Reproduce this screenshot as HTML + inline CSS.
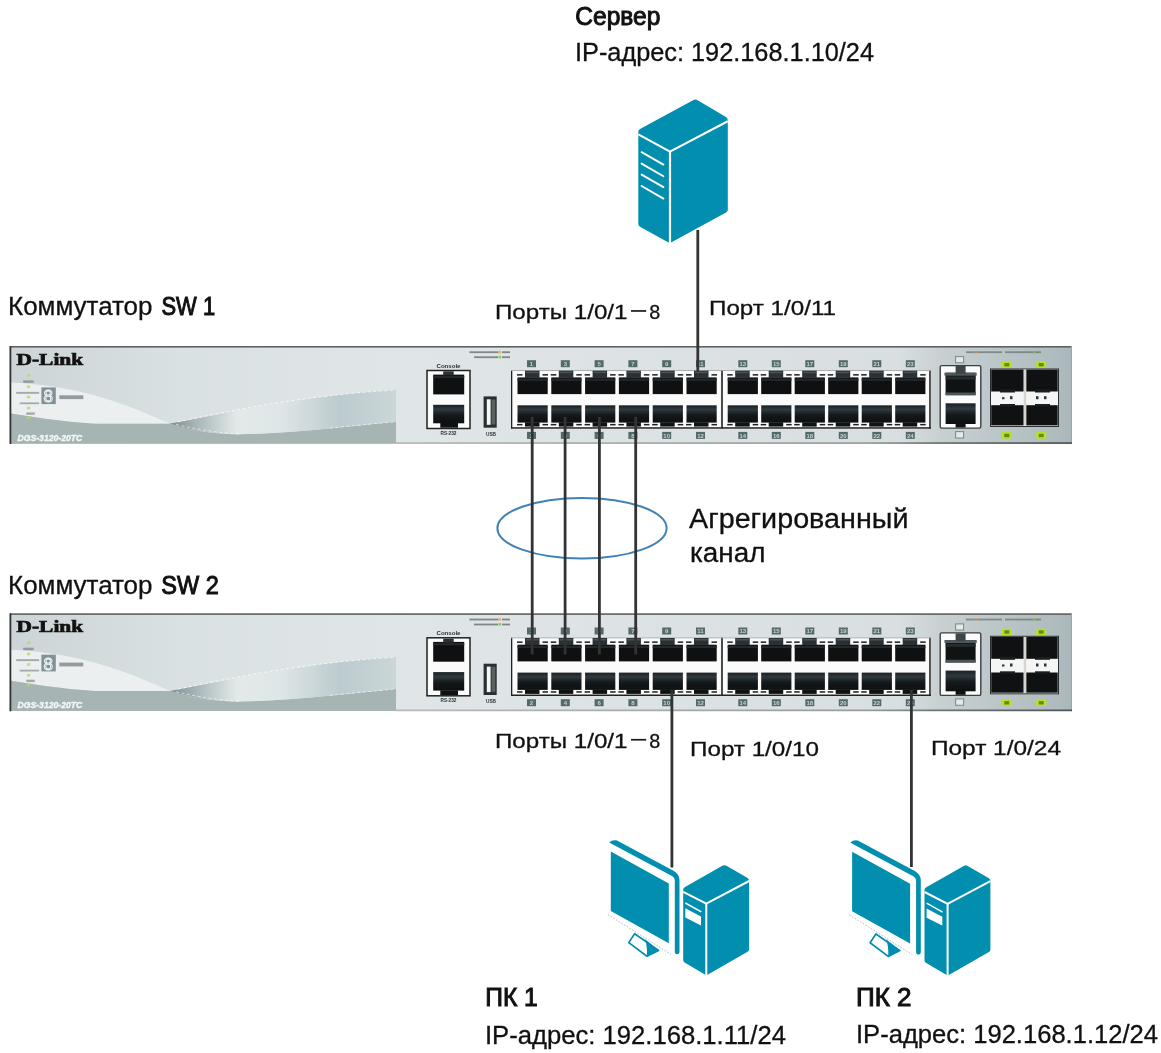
<!DOCTYPE html>
<html><head><meta charset="utf-8">
<style>
html,body{margin:0;padding:0;background:#fff;}
body{width:1161px;height:1053px;overflow:hidden;position:relative;}
svg{position:absolute;left:0;top:0;display:block;filter:blur(0.35px);}
text{font-family:"Liberation Sans",sans-serif;fill:#111;} #texts text{stroke:#111;stroke-width:0.3px;}
</style></head><body>
<svg width="1161" height="1053" viewBox="0 0 1161 1053">
<defs>
<linearGradient id="metal" x1="0" y1="0" x2="1" y2="0">
  <stop offset="0" stop-color="#d6dcdd"/>
  <stop offset="0.367" stop-color="#e0e6e7"/>
  <stop offset="0.838" stop-color="#d9dfe0"/>
  <stop offset="0.875" stop-color="#c9d0d2"/>
  <stop offset="1" stop-color="#abb8bb"/>
</linearGradient>
<linearGradient id="leftTone" gradientUnits="userSpaceOnUse" x1="11" y1="0" x2="396" y2="0">
  <stop offset="0" stop-color="#ccd4d7"/>
  <stop offset="0.45" stop-color="#dae1e2"/>
  <stop offset="1" stop-color="#e0e6e7"/>
</linearGradient>
<linearGradient id="reflect" gradientUnits="userSpaceOnUse" x1="170" y1="0" x2="396" y2="0">
  <stop offset="0" stop-color="#7e8d90"/>
  <stop offset="0.12" stop-color="#a9b7ba"/>
  <stop offset="0.3" stop-color="#e4eaea"/>
  <stop offset="0.5" stop-color="#dde5e6"/>
  <stop offset="0.75" stop-color="#bccbce"/>
  <stop offset="1" stop-color="#cbd6d8"/>
</linearGradient>
<linearGradient id="botb" gradientUnits="userSpaceOnUse" x1="396" y1="0" x2="1072" y2="0">
  <stop offset="0" stop-color="#b3bbbb"/>
  <stop offset="0.7" stop-color="#959d9d"/>
  <stop offset="0.8" stop-color="#6d7474"/>
  <stop offset="1" stop-color="#4f5555"/>
</linearGradient>
<linearGradient id="lowport" x1="0" y1="0" x2="0" y2="1">
  <stop offset="0" stop-color="#1a1f22"/>
  <stop offset="0.25" stop-color="#2f3a40"/>
  <stop offset="0.55" stop-color="#15191b"/>
  <stop offset="1" stop-color="#0d0f10"/>
</linearGradient>
<g id="sw">
<rect x="10" y="346.5" width="1062" height="97.3" fill="url(#metal)"/>
<rect x="11" y="347.5" width="385" height="96" fill="url(#leftTone)"/>
<path d="M11,382.5 C45,384 80,390 110,400 C135,408 152,416 170,423.6 L95,423.8 C60,421.5 30,416.5 11,413.5 Z" fill="#eceff0"/>
<path d="M11,413.5 C30,416.5 60,421.5 95,423.8 L170,423.8 C190,430 210,434 238,434.3 C300,433 350,426 396,421.5 L396,443.8 L11,443.8 Z" fill="#a6b4b4"/>
<path d="M170,423.6 C230,412 300,396 396,389.5 L396,421.5 C350,426 300,433 238,434.3 C210,434 190,430 170,423.8 Z" fill="url(#reflect)"/>
<path d="M178,421.8 C235,410 300,396 394,390" fill="none" stroke="#ffffff" stroke-width="0.9" stroke-dasharray="3 2.5" opacity="0.8"/>
<path d="M176,424.5 C200,430 220,433 240,434 M330,428 C350,426 375,423.5 394,422" fill="none" stroke="#ffffff" stroke-width="0.8" stroke-dasharray="3 2.5" opacity="0.7"/>
<rect x="10" y="346" width="1062" height="1.6" fill="#5d6262"/>
<rect x="9.5" y="346" width="1.8" height="98" fill="#2e3333"/>
<rect x="1071" y="346" width="1" height="98" fill="#9aa6a9"/>
<rect x="396" y="442.2" width="676" height="1.7" fill="url(#botb)"/>
<text x="16.5" y="365" style="font-family:'Liberation Serif',serif;font-weight:bold;font-size:16.5px;fill:#111;stroke:#111;stroke-width:0.7" textLength="66.7" lengthAdjust="spacingAndGlyphs">D-Link</text>
<text x="17.5" y="441.2" style="font-family:'Liberation Sans',sans-serif;font-style:italic;font-weight:bold;font-size:9.8px;fill:#f2f5f5;stroke:#f2f5f5;stroke-width:0.45" textLength="64.8" lengthAdjust="spacingAndGlyphs">DGS-3120-20TC</text>
<rect x="27" y="374.2" width="3.2" height="2.4" fill="#b8dc4a" opacity="0.85"/>
<rect x="27" y="385.5" width="3.2" height="2.4" fill="#b8dc4a" opacity="0.85"/>
<rect x="27" y="395.9" width="3.2" height="2.4" fill="#b8dc4a" opacity="0.85"/>
<rect x="27" y="406.8" width="3.2" height="2.4" fill="#b8dc4a" opacity="0.85"/>
<rect x="27" y="416.5" width="3.2" height="2.4" fill="#b8dc4a" opacity="0.85"/>
<rect x="23.2" y="380.4" width="10.5" height="2.4" fill="#3a4244" opacity="0.4"/>
<rect x="16.2" y="391.9" width="22.9" height="1.9" fill="#3a4244" opacity="0.4"/>
<rect x="19.7" y="402.4" width="19.4" height="1.8" fill="#3a4244" opacity="0.4"/>
<rect x="26.3" y="412.4" width="8.5" height="2.4" fill="#3a4244" opacity="0.4"/>
<rect x="41.4" y="387.4" width="14.4" height="16.7" fill="#7f9199"/>
<text x="43.6" y="402.3" style="font-family:'Liberation Sans',sans-serif;font-size:17px;fill:none;stroke:#eef3f4;stroke-width:1" textLength="9.5" lengthAdjust="spacingAndGlyphs">8</text>
<rect x="59.3" y="395.3" width="24" height="3.8" fill="#2d3436" opacity="0.45"/>
<rect x="469.5" y="351.3" width="29" height="1.8" fill="#5a6060" opacity="0.7"/>
<rect x="502" y="351.3" width="8" height="1.8" fill="#5a6060" opacity="0.7"/>
<rect x="474" y="356.3" width="24" height="1.8" fill="#5a6060" opacity="0.7"/>
<rect x="502" y="356.3" width="8" height="1.8" fill="#5a6060" opacity="0.7"/>
<rect x="498.5" y="350.8" width="2.6" height="2.6" fill="#f0a050" opacity="0.8"/>
<rect x="498.5" y="355.8" width="2.6" height="2.6" fill="#6fd04a" opacity="0.9"/>
<rect x="966" y="351.3" width="36" height="1.8" fill="#5a6060" opacity="0.6"/>
<rect x="1005" y="351.3" width="36" height="1.8" fill="#5a6060" opacity="0.6"/>
<rect x="975" y="350.8" width="2.4" height="2.6" fill="#f09050" opacity="0.7"/>
<rect x="1033" y="350.8" width="2.4" height="2.6" fill="#6fd04a" opacity="0.8"/>
<rect x="511" y="370.4" width="209.8" height="58.2" fill="#fbfbfb"/>
<rect x="511" y="370.4" width="1.3" height="58.2" fill="#1e2222"/>
<rect x="511" y="427.2" width="210" height="1.5" fill="#1e2222"/>
<rect x="511" y="370.2" width="210" height="0.8" fill="#9aa2a2"/>
<rect x="721.3" y="370.4" width="209.2" height="58.2" fill="#fbfbfb"/>
<rect x="721.2" y="370.4" width="1.6" height="58.2" fill="#1e2222"/>
<rect x="721.3" y="427.2" width="209.5" height="1.5" fill="#1e2222"/>
<rect x="929.2" y="370.4" width="1.5" height="58.2" fill="#1e2222"/>
<rect x="721.3" y="370.2" width="209" height="0.8" fill="#9aa2a2"/>
<rect x="517.50" y="377.40" width="30.2" height="16.7" fill="#0e1011"/><rect x="517.50" y="378.60" width="30.2" height="2.2" fill="#24292b"/><rect x="525.00" y="370.70" width="14.5" height="7.2" fill="#2a3033"/><rect x="526.00" y="371.60" width="12.5" height="1.6" fill="#4a5458"/><rect x="517.00" y="374.10" width="5.5" height="1.5" fill="#1b1d1e"/><rect x="542.50" y="374.10" width="5.5" height="1.5" fill="#1b1d1e"/>
<rect x="517.50" y="405.30" width="30.2" height="17.3" fill="url(#lowport)"/><rect x="525.00" y="422.30" width="14.5" height="4.3" fill="#0f1213"/><rect x="517.00" y="423.90" width="5.5" height="1.5" fill="#1b1d1e"/><rect x="542.50" y="423.90" width="5.5" height="1.5" fill="#1b1d1e"/>
<rect x="527.00" y="360.20" width="9" height="7" fill="#546a6a"/><text x="531.50" y="366.10" text-anchor="middle" style="font-family:'Liberation Sans',sans-serif;font-weight:bold;font-size:6px;fill:#c5d2d2">1</text>
<rect x="527.00" y="431.90" width="9" height="7" fill="#546a6a"/><text x="531.50" y="437.80" text-anchor="middle" style="font-family:'Liberation Sans',sans-serif;font-weight:bold;font-size:6px;fill:#c5d2d2">2</text>
<rect x="551.30" y="377.40" width="30.2" height="16.7" fill="#0e1011"/><rect x="551.30" y="378.60" width="30.2" height="2.2" fill="#24292b"/><rect x="558.80" y="370.70" width="14.5" height="7.2" fill="#2a3033"/><rect x="559.80" y="371.60" width="12.5" height="1.6" fill="#4a5458"/><rect x="550.80" y="374.10" width="5.5" height="1.5" fill="#1b1d1e"/><rect x="576.30" y="374.10" width="5.5" height="1.5" fill="#1b1d1e"/>
<rect x="551.30" y="405.30" width="30.2" height="17.3" fill="url(#lowport)"/><rect x="558.80" y="422.30" width="14.5" height="4.3" fill="#0f1213"/><rect x="550.80" y="423.90" width="5.5" height="1.5" fill="#1b1d1e"/><rect x="576.30" y="423.90" width="5.5" height="1.5" fill="#1b1d1e"/>
<rect x="560.80" y="360.20" width="9" height="7" fill="#546a6a"/><text x="565.30" y="366.10" text-anchor="middle" style="font-family:'Liberation Sans',sans-serif;font-weight:bold;font-size:6px;fill:#c5d2d2">3</text>
<rect x="560.80" y="431.90" width="9" height="7" fill="#546a6a"/><text x="565.30" y="437.80" text-anchor="middle" style="font-family:'Liberation Sans',sans-serif;font-weight:bold;font-size:6px;fill:#c5d2d2">4</text>
<rect x="585.10" y="377.40" width="30.2" height="16.7" fill="#0e1011"/><rect x="585.10" y="378.60" width="30.2" height="2.2" fill="#24292b"/><rect x="592.60" y="370.70" width="14.5" height="7.2" fill="#2a3033"/><rect x="593.60" y="371.60" width="12.5" height="1.6" fill="#4a5458"/><rect x="584.60" y="374.10" width="5.5" height="1.5" fill="#1b1d1e"/><rect x="610.10" y="374.10" width="5.5" height="1.5" fill="#1b1d1e"/>
<rect x="585.10" y="405.30" width="30.2" height="17.3" fill="url(#lowport)"/><rect x="592.60" y="422.30" width="14.5" height="4.3" fill="#0f1213"/><rect x="584.60" y="423.90" width="5.5" height="1.5" fill="#1b1d1e"/><rect x="610.10" y="423.90" width="5.5" height="1.5" fill="#1b1d1e"/>
<rect x="594.60" y="360.20" width="9" height="7" fill="#546a6a"/><text x="599.10" y="366.10" text-anchor="middle" style="font-family:'Liberation Sans',sans-serif;font-weight:bold;font-size:6px;fill:#c5d2d2">5</text>
<rect x="594.60" y="431.90" width="9" height="7" fill="#546a6a"/><text x="599.10" y="437.80" text-anchor="middle" style="font-family:'Liberation Sans',sans-serif;font-weight:bold;font-size:6px;fill:#c5d2d2">6</text>
<rect x="618.90" y="377.40" width="30.2" height="16.7" fill="#0e1011"/><rect x="618.90" y="378.60" width="30.2" height="2.2" fill="#24292b"/><rect x="626.40" y="370.70" width="14.5" height="7.2" fill="#2a3033"/><rect x="627.40" y="371.60" width="12.5" height="1.6" fill="#4a5458"/><rect x="618.40" y="374.10" width="5.5" height="1.5" fill="#1b1d1e"/><rect x="643.90" y="374.10" width="5.5" height="1.5" fill="#1b1d1e"/>
<rect x="618.90" y="405.30" width="30.2" height="17.3" fill="url(#lowport)"/><rect x="626.40" y="422.30" width="14.5" height="4.3" fill="#0f1213"/><rect x="618.40" y="423.90" width="5.5" height="1.5" fill="#1b1d1e"/><rect x="643.90" y="423.90" width="5.5" height="1.5" fill="#1b1d1e"/>
<rect x="628.40" y="360.20" width="9" height="7" fill="#546a6a"/><text x="632.90" y="366.10" text-anchor="middle" style="font-family:'Liberation Sans',sans-serif;font-weight:bold;font-size:6px;fill:#c5d2d2">7</text>
<rect x="628.40" y="431.90" width="9" height="7" fill="#546a6a"/><text x="632.90" y="437.80" text-anchor="middle" style="font-family:'Liberation Sans',sans-serif;font-weight:bold;font-size:6px;fill:#c5d2d2">8</text>
<rect x="652.70" y="377.40" width="30.2" height="16.7" fill="#0e1011"/><rect x="652.70" y="378.60" width="30.2" height="2.2" fill="#24292b"/><rect x="660.20" y="370.70" width="14.5" height="7.2" fill="#2a3033"/><rect x="661.20" y="371.60" width="12.5" height="1.6" fill="#4a5458"/><rect x="652.20" y="374.10" width="5.5" height="1.5" fill="#1b1d1e"/><rect x="677.70" y="374.10" width="5.5" height="1.5" fill="#1b1d1e"/>
<rect x="652.70" y="405.30" width="30.2" height="17.3" fill="url(#lowport)"/><rect x="660.20" y="422.30" width="14.5" height="4.3" fill="#0f1213"/><rect x="652.20" y="423.90" width="5.5" height="1.5" fill="#1b1d1e"/><rect x="677.70" y="423.90" width="5.5" height="1.5" fill="#1b1d1e"/>
<rect x="662.20" y="360.20" width="9" height="7" fill="#546a6a"/><text x="666.70" y="366.10" text-anchor="middle" style="font-family:'Liberation Sans',sans-serif;font-weight:bold;font-size:6px;fill:#c5d2d2">9</text>
<rect x="662.20" y="431.90" width="9" height="7" fill="#546a6a"/><text x="666.70" y="437.80" text-anchor="middle" style="font-family:'Liberation Sans',sans-serif;font-weight:bold;font-size:6px;fill:#c5d2d2">10</text>
<rect x="686.50" y="377.40" width="30.2" height="16.7" fill="#0e1011"/><rect x="686.50" y="378.60" width="30.2" height="2.2" fill="#24292b"/><rect x="694.00" y="370.70" width="14.5" height="7.2" fill="#2a3033"/><rect x="695.00" y="371.60" width="12.5" height="1.6" fill="#4a5458"/><rect x="686.00" y="374.10" width="5.5" height="1.5" fill="#1b1d1e"/><rect x="711.50" y="374.10" width="5.5" height="1.5" fill="#1b1d1e"/>
<rect x="686.50" y="405.30" width="30.2" height="17.3" fill="url(#lowport)"/><rect x="694.00" y="422.30" width="14.5" height="4.3" fill="#0f1213"/><rect x="686.00" y="423.90" width="5.5" height="1.5" fill="#1b1d1e"/><rect x="711.50" y="423.90" width="5.5" height="1.5" fill="#1b1d1e"/>
<rect x="696.00" y="360.20" width="9" height="7" fill="#546a6a"/><text x="700.50" y="366.10" text-anchor="middle" style="font-family:'Liberation Sans',sans-serif;font-weight:bold;font-size:6px;fill:#c5d2d2">11</text>
<rect x="696.00" y="431.90" width="9" height="7" fill="#546a6a"/><text x="700.50" y="437.80" text-anchor="middle" style="font-family:'Liberation Sans',sans-serif;font-weight:bold;font-size:6px;fill:#c5d2d2">12</text>
<rect x="727.70" y="377.40" width="30.2" height="16.7" fill="#0e1011"/><rect x="727.70" y="378.60" width="30.2" height="2.2" fill="#24292b"/><rect x="735.20" y="370.70" width="14.5" height="7.2" fill="#2a3033"/><rect x="736.20" y="371.60" width="12.5" height="1.6" fill="#4a5458"/><rect x="727.20" y="374.10" width="5.5" height="1.5" fill="#1b1d1e"/><rect x="752.70" y="374.10" width="5.5" height="1.5" fill="#1b1d1e"/>
<rect x="727.70" y="405.30" width="30.2" height="17.3" fill="url(#lowport)"/><rect x="735.20" y="422.30" width="14.5" height="4.3" fill="#0f1213"/><rect x="727.20" y="423.90" width="5.5" height="1.5" fill="#1b1d1e"/><rect x="752.70" y="423.90" width="5.5" height="1.5" fill="#1b1d1e"/>
<rect x="738.30" y="360.20" width="9" height="7" fill="#546a6a"/><text x="742.80" y="366.10" text-anchor="middle" style="font-family:'Liberation Sans',sans-serif;font-weight:bold;font-size:6px;fill:#c5d2d2">13</text>
<rect x="738.30" y="431.90" width="9" height="7" fill="#546a6a"/><text x="742.80" y="437.80" text-anchor="middle" style="font-family:'Liberation Sans',sans-serif;font-weight:bold;font-size:6px;fill:#c5d2d2">14</text>
<rect x="761.20" y="377.40" width="30.2" height="16.7" fill="#0e1011"/><rect x="761.20" y="378.60" width="30.2" height="2.2" fill="#24292b"/><rect x="768.70" y="370.70" width="14.5" height="7.2" fill="#2a3033"/><rect x="769.70" y="371.60" width="12.5" height="1.6" fill="#4a5458"/><rect x="760.70" y="374.10" width="5.5" height="1.5" fill="#1b1d1e"/><rect x="786.20" y="374.10" width="5.5" height="1.5" fill="#1b1d1e"/>
<rect x="761.20" y="405.30" width="30.2" height="17.3" fill="url(#lowport)"/><rect x="768.70" y="422.30" width="14.5" height="4.3" fill="#0f1213"/><rect x="760.70" y="423.90" width="5.5" height="1.5" fill="#1b1d1e"/><rect x="786.20" y="423.90" width="5.5" height="1.5" fill="#1b1d1e"/>
<rect x="771.80" y="360.20" width="9" height="7" fill="#546a6a"/><text x="776.30" y="366.10" text-anchor="middle" style="font-family:'Liberation Sans',sans-serif;font-weight:bold;font-size:6px;fill:#c5d2d2">15</text>
<rect x="771.80" y="431.90" width="9" height="7" fill="#546a6a"/><text x="776.30" y="437.80" text-anchor="middle" style="font-family:'Liberation Sans',sans-serif;font-weight:bold;font-size:6px;fill:#c5d2d2">16</text>
<rect x="794.70" y="377.40" width="30.2" height="16.7" fill="#0e1011"/><rect x="794.70" y="378.60" width="30.2" height="2.2" fill="#24292b"/><rect x="802.20" y="370.70" width="14.5" height="7.2" fill="#2a3033"/><rect x="803.20" y="371.60" width="12.5" height="1.6" fill="#4a5458"/><rect x="794.20" y="374.10" width="5.5" height="1.5" fill="#1b1d1e"/><rect x="819.70" y="374.10" width="5.5" height="1.5" fill="#1b1d1e"/>
<rect x="794.70" y="405.30" width="30.2" height="17.3" fill="url(#lowport)"/><rect x="802.20" y="422.30" width="14.5" height="4.3" fill="#0f1213"/><rect x="794.20" y="423.90" width="5.5" height="1.5" fill="#1b1d1e"/><rect x="819.70" y="423.90" width="5.5" height="1.5" fill="#1b1d1e"/>
<rect x="805.30" y="360.20" width="9" height="7" fill="#546a6a"/><text x="809.80" y="366.10" text-anchor="middle" style="font-family:'Liberation Sans',sans-serif;font-weight:bold;font-size:6px;fill:#c5d2d2">17</text>
<rect x="805.30" y="431.90" width="9" height="7" fill="#546a6a"/><text x="809.80" y="437.80" text-anchor="middle" style="font-family:'Liberation Sans',sans-serif;font-weight:bold;font-size:6px;fill:#c5d2d2">18</text>
<rect x="828.20" y="377.40" width="30.2" height="16.7" fill="#0e1011"/><rect x="828.20" y="378.60" width="30.2" height="2.2" fill="#24292b"/><rect x="835.70" y="370.70" width="14.5" height="7.2" fill="#2a3033"/><rect x="836.70" y="371.60" width="12.5" height="1.6" fill="#4a5458"/><rect x="827.70" y="374.10" width="5.5" height="1.5" fill="#1b1d1e"/><rect x="853.20" y="374.10" width="5.5" height="1.5" fill="#1b1d1e"/>
<rect x="828.20" y="405.30" width="30.2" height="17.3" fill="url(#lowport)"/><rect x="835.70" y="422.30" width="14.5" height="4.3" fill="#0f1213"/><rect x="827.70" y="423.90" width="5.5" height="1.5" fill="#1b1d1e"/><rect x="853.20" y="423.90" width="5.5" height="1.5" fill="#1b1d1e"/>
<rect x="838.80" y="360.20" width="9" height="7" fill="#546a6a"/><text x="843.30" y="366.10" text-anchor="middle" style="font-family:'Liberation Sans',sans-serif;font-weight:bold;font-size:6px;fill:#c5d2d2">19</text>
<rect x="838.80" y="431.90" width="9" height="7" fill="#546a6a"/><text x="843.30" y="437.80" text-anchor="middle" style="font-family:'Liberation Sans',sans-serif;font-weight:bold;font-size:6px;fill:#c5d2d2">20</text>
<rect x="861.70" y="377.40" width="30.2" height="16.7" fill="#0e1011"/><rect x="861.70" y="378.60" width="30.2" height="2.2" fill="#24292b"/><rect x="869.20" y="370.70" width="14.5" height="7.2" fill="#2a3033"/><rect x="870.20" y="371.60" width="12.5" height="1.6" fill="#4a5458"/><rect x="861.20" y="374.10" width="5.5" height="1.5" fill="#1b1d1e"/><rect x="886.70" y="374.10" width="5.5" height="1.5" fill="#1b1d1e"/>
<rect x="861.70" y="405.30" width="30.2" height="17.3" fill="url(#lowport)"/><rect x="869.20" y="422.30" width="14.5" height="4.3" fill="#0f1213"/><rect x="861.20" y="423.90" width="5.5" height="1.5" fill="#1b1d1e"/><rect x="886.70" y="423.90" width="5.5" height="1.5" fill="#1b1d1e"/>
<rect x="872.30" y="360.20" width="9" height="7" fill="#546a6a"/><text x="876.80" y="366.10" text-anchor="middle" style="font-family:'Liberation Sans',sans-serif;font-weight:bold;font-size:6px;fill:#c5d2d2">21</text>
<rect x="872.30" y="431.90" width="9" height="7" fill="#546a6a"/><text x="876.80" y="437.80" text-anchor="middle" style="font-family:'Liberation Sans',sans-serif;font-weight:bold;font-size:6px;fill:#c5d2d2">22</text>
<rect x="895.20" y="377.40" width="30.2" height="16.7" fill="#0e1011"/><rect x="895.20" y="378.60" width="30.2" height="2.2" fill="#24292b"/><rect x="902.70" y="370.70" width="14.5" height="7.2" fill="#2a3033"/><rect x="903.70" y="371.60" width="12.5" height="1.6" fill="#4a5458"/><rect x="894.70" y="374.10" width="5.5" height="1.5" fill="#1b1d1e"/><rect x="920.20" y="374.10" width="5.5" height="1.5" fill="#1b1d1e"/>
<rect x="895.20" y="405.30" width="30.2" height="17.3" fill="url(#lowport)"/><rect x="902.70" y="422.30" width="14.5" height="4.3" fill="#0f1213"/><rect x="894.70" y="423.90" width="5.5" height="1.5" fill="#1b1d1e"/><rect x="920.20" y="423.90" width="5.5" height="1.5" fill="#1b1d1e"/>
<rect x="905.80" y="360.20" width="9" height="7" fill="#546a6a"/><text x="910.30" y="366.10" text-anchor="middle" style="font-family:'Liberation Sans',sans-serif;font-weight:bold;font-size:6px;fill:#c5d2d2">23</text>
<rect x="905.80" y="431.90" width="9" height="7" fill="#546a6a"/><text x="910.30" y="437.80" text-anchor="middle" style="font-family:'Liberation Sans',sans-serif;font-weight:bold;font-size:6px;fill:#c5d2d2">24</text>
<rect x="427" y="370.5" width="43" height="58" fill="#fbfbfb" stroke="#1e2222" stroke-width="1.5"/>
<rect x="433.2" y="374.6" width="31" height="19.8" fill="#0e1011"/><rect x="433.2" y="375.8" width="31" height="2.2" fill="#24292b"/><rect x="443.2" y="371.3" width="10.5" height="4" fill="#2a3033"/>
<rect x="433.2" y="404.8" width="31" height="18.5" fill="url(#lowport)"/><rect x="440.3" y="423" width="17.7" height="4.7" fill="#0f1213"/>
<text x="448.5" y="367.6" text-anchor="middle" textLength="24" lengthAdjust="spacingAndGlyphs" style="font-family:'Liberation Sans',sans-serif;font-weight:bold;font-size:6px;fill:#2a3133">Console</text>
<text x="448.5" y="435" text-anchor="middle" textLength="16" lengthAdjust="spacingAndGlyphs" style="font-family:'Liberation Sans',sans-serif;font-weight:bold;font-size:5.5px;fill:#2a3133">RS-232</text>
<rect x="483.6" y="396.4" width="13.1" height="31.3" fill="#2a2f31"/>
<rect x="486.8" y="399.3" width="3.8" height="25.5" fill="#f5f7f7"/>
<rect x="491.5" y="399.5" width="3.8" height="25" fill="#59625f"/>
<text x="491" y="435.5" text-anchor="middle" textLength="10" lengthAdjust="spacingAndGlyphs" style="font-family:'Liberation Sans',sans-serif;font-weight:bold;font-size:5px;fill:#2a3133">USB</text>
<rect x="940.2" y="365.6" width="40.6" height="62.5" rx="1.5" fill="#fbfbfb" stroke="#3a4040" stroke-width="1.4"/>
<rect x="945.6" y="372.7" width="30" height="22.5" fill="#101314"/>
<rect x="944.5" y="372.7" width="32.2" height="3" fill="#50595c"/>
<rect x="955.6" y="366" width="10" height="8" fill="#3d4548"/>
<rect x="945.6" y="376.5" width="30" height="3" fill="#272c2e"/>
<rect x="945.6" y="392.5" width="30" height="2.7" fill="#4c5557"/>
<rect x="945.6" y="403.3" width="30" height="20.7" fill="url(#lowport)"/>
<rect x="955.6" y="423.5" width="10" height="4" fill="#101314"/>
<rect x="955.6" y="356.6" width="8" height="6.2" fill="#e4eaea" stroke="#7d8e90" stroke-width="1.1"/><rect x="955.6" y="431.6" width="8" height="6.4" fill="#e4eaea" stroke="#7d8e90" stroke-width="1.1"/>
<rect x="990.5" y="369" width="68" height="57.5" fill="#f4f6f6" stroke="#2a2f30" stroke-width="1"/>
<rect x="991.2" y="369.6" width="32.5" height="21.9" fill="#0f1112"/>
<rect x="1026.2" y="369.6" width="31.5" height="21.9" fill="#0f1112"/>
<rect x="991.2" y="405.2" width="32.5" height="20.2" fill="#0f1112"/>
<rect x="1026.2" y="405.2" width="31.5" height="20.2" fill="#0f1112"/>
<rect x="1023.7" y="369.6" width="2.5" height="56" fill="#d8d4d0"/>
<rect x="1000" y="389.5" width="15" height="3" fill="#1a1d1e"/><rect x="1035" y="389.5" width="15" height="3" fill="#1a1d1e"/>
<rect x="1000" y="404" width="15" height="2.5" fill="#1a1d1e"/><rect x="1035" y="404" width="15" height="2.5" fill="#1a1d1e"/>
<rect x="1002" y="397.2" width="2.5" height="2" fill="#333"/><rect x="1010" y="396.2" width="2.5" height="3" fill="#333"/>
<rect x="1036" y="396.2" width="2.5" height="3" fill="#333"/><rect x="1044" y="396.2" width="2.5" height="3" fill="#333"/>
<rect x="1001.8" y="361.4" width="10" height="6.4" fill="#b2e422"/><rect x="1004.3" y="363" width="5" height="3.4" fill="#3e4a0c" opacity="0.6"/>
<rect x="1001.8" y="432.1" width="10" height="6.6" fill="#b2e422"/><rect x="1004.3" y="433.8" width="5" height="3.4" fill="#3e4a0c" opacity="0.6"/>
<rect x="1036.2" y="361.4" width="10" height="6.4" fill="#b2e422"/><rect x="1038.7" y="363" width="5" height="3.4" fill="#3e4a0c" opacity="0.6"/>
<rect x="1036.2" y="432.1" width="10" height="6.6" fill="#b2e422"/><rect x="1038.7" y="433.8" width="5" height="3.4" fill="#3e4a0c" opacity="0.6"/>
</g></defs>
<rect x="0" y="0" width="1161" height="1053" fill="#fff"/>
<use href="#sw"/>
<use href="#sw" transform="translate(0,267.3)"/>
<ellipse cx="582" cy="528.2" rx="84.6" ry="30.3" fill="none" stroke="#3f82b6" stroke-width="2"/>

<g stroke="#333" stroke-width="2.8" fill="none">
<line x1="697.8" y1="230" x2="697.8" y2="371"/>
<line x1="532.2" y1="417" x2="532.2" y2="654.5"/>
<line x1="565.1" y1="417" x2="565.1" y2="654.5"/>
<line x1="599.4" y1="417" x2="599.4" y2="654.5"/>
<line x1="635.7" y1="417" x2="635.7" y2="654.5"/>
<line x1="671.9" y1="690" x2="671.9" y2="867.5"/>
<line x1="911.4" y1="690" x2="911.4" y2="867"/>
</g>

<g id="server">
<path d="M638.3,131.5 Q638.3,130 640,129 L693.5,100 Q695.3,99.1 697.2,100 L726,117 Q727.8,118.3 727.8,120 L727.8,210 Q727.8,211.5 726,212.4 L671.5,242.2 Q669.8,243.1 668,242.2 L640,226.8 Q638.3,225.8 638.3,224 Z" fill="#028eae"/>
<polyline points="638.3,134.3 670,151.6 727.8,121.3" fill="none" stroke="#fff" stroke-width="2.1"/>
<line x1="670" y1="151" x2="670" y2="243.5" stroke="#fff" stroke-width="2.2"/>
<g stroke="#fff" stroke-width="1.9" stroke-linecap="round">
<line x1="641.6" y1="152.2" x2="663.4" y2="164.6"/>
<line x1="641.6" y1="163.6" x2="663.4" y2="176.2"/>
<line x1="641.6" y1="174.6" x2="663.4" y2="187.1"/>
<line x1="641.6" y1="186" x2="663.4" y2="198.6"/>
</g>
</g>

<g id="pc">
<!-- monitor outer L: top band + right band -->
<path d="M609.2,842.4 Q611.5,839.6 616.5,840.3 L673.5,870.8 Q679.5,874.5 679.5,880 L679.5,951.5 Q679.5,954.3 677,954.3 Q674.8,954.3 674.8,951.5 L674.8,881 Q674.8,877.3 671.5,875.8 L611.5,843.8 Z" fill="#028eae"/>
<!-- screen -->
<path d="M610.8,851.5 L668.8,883.6 L668.8,943.3 L610.8,911 Z" fill="#028eae"/>
<!-- bottom bezel dashed -->
<path d="M607.8,914.5 L671,954.4" fill="none" stroke="#8aa4ab" stroke-width="0.9" stroke-dasharray="1.6 1.6" opacity="0.8"/>
<!-- stand -->
<path d="M634.6,933.8 L628.8,942.6 L646.9,956.2 L658.6,950.4 Z" fill="#fff" stroke="#028eae" stroke-width="1.7" stroke-linejoin="round"/>
<path d="M644.8,939 L658.6,950.4 L646.9,956.2 Q647.5,946 644.8,939 Z" fill="#028eae"/>
<!-- tower -->
<path d="M683.2,889.5 Q683.2,888 684.6,887.2 L722.8,865.6 Q724.4,864.7 726,865.6 L747.6,878 Q749.1,879 749.1,880.5 L749.1,949.6 Q749.1,951 747.6,951.8 L708,974.6 Q706.4,975.5 704.8,974.6 L684.6,962.5 Q683.2,961.6 683.2,960 Z" fill="#028eae"/>
<polyline points="683.2,891.8 706.3,903.6 749.1,881" fill="none" stroke="#fff" stroke-width="2"/>
<line x1="706.3" y1="903" x2="706.3" y2="976" stroke="#fff" stroke-width="2"/>
<line x1="685.3" y1="903" x2="701.3" y2="911.9" stroke="#fff" stroke-width="1.5"/>
<path d="M685.3,908.2 L701,916.6 L701,925.4 L685.3,917.6 Z" fill="#fff"/>
</g>
<use href="#pc" transform="translate(241.3,0.2)"/>
<g id="texts">
<text x="575.3" y="25.2" font-size="25" style="stroke-width:1px" textLength="85" lengthAdjust="spacingAndGlyphs">Сервер</text>
<text x="575" y="61.3" font-size="25" textLength="299" lengthAdjust="spacingAndGlyphs">IP-адрес: 192.168.1.10/24</text>
<text x="8" y="315" font-size="25.5" textLength="144.5" lengthAdjust="spacingAndGlyphs">Коммутатор</text>
<text x="161.5" y="315" font-size="25.5" style="stroke-width:1px" textLength="53.6" lengthAdjust="spacingAndGlyphs">SW 1</text>
<text x="495" y="318.8" font-size="21" textLength="132.5" lengthAdjust="spacingAndGlyphs">Порты 1/0/1</text><rect x="631" y="310.1" width="15.2" height="1.7" fill="#1a1a1a"/><text x="649.2" y="318.8" font-size="21" textLength="11" lengthAdjust="spacingAndGlyphs">8</text>
<text x="709" y="314.8" font-size="21" textLength="127" lengthAdjust="spacingAndGlyphs">Порт 1/0/11</text>
<text x="689" y="528.3" font-size="27" textLength="219.5" lengthAdjust="spacingAndGlyphs">Агрегированный</text>
<text x="690" y="561.5" font-size="27" textLength="75.5" lengthAdjust="spacingAndGlyphs">канал</text>
<text x="8" y="594" font-size="25.5" textLength="144.5" lengthAdjust="spacingAndGlyphs">Коммутатор</text>
<text x="161.3" y="594" font-size="25.5" style="stroke-width:1px" textLength="57.5" lengthAdjust="spacingAndGlyphs">SW 2</text>
<text x="495" y="747.6" font-size="21" textLength="132.5" lengthAdjust="spacingAndGlyphs">Порты 1/0/1</text><rect x="631" y="738.9" width="15.2" height="1.7" fill="#1a1a1a"/><text x="649.2" y="747.6" font-size="21" textLength="11" lengthAdjust="spacingAndGlyphs">8</text>
<text x="690" y="755.6" font-size="21" textLength="129" lengthAdjust="spacingAndGlyphs">Порт 1/0/10</text>
<text x="931" y="754.5" font-size="21" textLength="130" lengthAdjust="spacingAndGlyphs">Порт 1/0/24</text>
<text x="485.3" y="1006.2" font-size="25" style="stroke-width:1px" textLength="52.5" lengthAdjust="spacingAndGlyphs">ПК 1</text>
<text x="485" y="1043.8" font-size="25" textLength="301" lengthAdjust="spacingAndGlyphs">IP-адрес: 192.168.1.11/24</text>
<text x="856" y="1006.3" font-size="25" style="stroke-width:1px" textLength="55.5" lengthAdjust="spacingAndGlyphs">ПК 2</text>
<text x="856" y="1042.8" font-size="25" textLength="302" lengthAdjust="spacingAndGlyphs">IP-адрес: 192.168.1.12/24</text>
</g>

</svg>
</body></html>
